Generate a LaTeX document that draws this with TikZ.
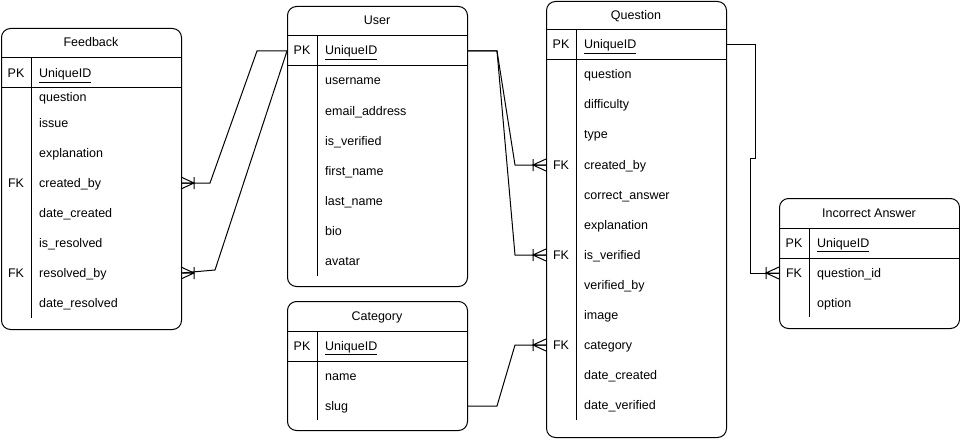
\documentclass[tikz,border=0pt]{standalone}
\usepackage{fontspec}
\setmainfont{Liberation Sans}
\begin{document}
\begin{tikzpicture}[x=1pt,y=-1pt,
  tbl/.style={draw=black,line width=1pt,rounded corners=9pt,fill=white,anchor=north west,inner sep=0pt},
  sep/.style={draw=black,line width=1pt},
  lbl/.style={font=\fontsize{12.5}{14}\selectfont,inner sep=0pt,text height=9pt,text depth=3pt,yshift=-1pt},
  fld/.style={lbl,anchor=west},
  keyl/.style={lbl,anchor=center},
  ttl/.style={lbl,anchor=center},
  rel/.style={draw=black,line width=1pt},
  crow/.pic={\draw[line width=1pt] (0,-6)--(13,0)--(0,6) (0,0)--(13,0) (13,-6)--(13,6);}
]
\useasboundingbox (0,0) rectangle (960,441);

% ---------- Feedback ----------
\node[tbl,minimum width=180pt,minimum height=301pt] (fb) at (1,28) {};
\draw[sep] (1,58) -- (181,58) (1,88) -- (181,88) (31,58) -- (31,318);
\node[ttl] (fbt) at (91,43) {Feedback};
\node[keyl] (fbpk) at (16,74) {PK};
\node[fld] (fbid) at (39,74) {\underline{UniqueID}};
\node[fld] (fb1) at (39,98) {question};
\node[fld] (fb2) at (39,124) {issue};
\node[fld] (fb3) at (39,153) {explanation};
\node[keyl] (fbfk1) at (16,183) {FK};
\node[fld] (fb4) at (39,183) {created\_by};
\node[fld] (fb5) at (39,213) {date\_created};
\node[fld] (fb6) at (39,243) {is\_resolved};
\node[keyl] (fbfk2) at (16,273) {FK};
\node[fld] (fb7) at (39,273) {resolved\_by};
\node[fld] (fb8) at (39,303) {date\_resolved};
\coordinate (fbcb) at (181,183);
\coordinate (fbrb) at (181,273);

% ---------- User ----------
\node[tbl,minimum width=180pt,minimum height=280pt] (us) at (287,6) {};
\draw[sep] (287,36) -- (467,36) (287,66) -- (467,66) (317,36) -- (317,276);
\node[ttl] (ust) at (377,21) {User};
\node[keyl] (uspk) at (302,51) {PK};
\node[fld] (usid) at (325,51) {\underline{UniqueID}};
\node[fld] (us1) at (325,81) {username};
\node[fld] (us2) at (325,111) {email\_address};
\node[fld] (us3) at (325,141) {is\_verified};
\node[fld] (us4) at (325,171) {first\_name};
\node[fld] (us5) at (325,201) {last\_name};
\node[fld] (us6) at (325,231) {bio};
\node[fld] (us7) at (325,261) {avatar};
\coordinate (uspkL) at (287,51);
\coordinate (uspkR) at (467,51);

% ---------- Category ----------
\node[tbl,minimum width=180pt,minimum height=129pt] (ca) at (287,301) {};
\draw[sep] (287,331) -- (467,331) (287,361) -- (467,361) (317,331) -- (317,420);
\node[ttl] (cat) at (377,316) {Category};
\node[keyl] (capk) at (302,346) {PK};
\node[fld] (caid) at (325,346) {\underline{UniqueID}};
\node[fld] (ca1) at (325,376) {name};
\node[fld] (ca2) at (325,406) {slug};
\coordinate (caslug) at (467,406);

% ---------- Question ----------
\node[tbl,minimum width=180pt,minimum height=436pt] (qu) at (546,1) {};
\draw[sep] (546,30) -- (726,30) (546,60) -- (726,60) (576,30) -- (576,420);
\node[ttl] (qut) at (636,16) {Question};
\node[keyl] (qupk) at (561,45) {PK};
\node[fld] (quid) at (584,45) {\underline{UniqueID}};
\node[fld] (qu1) at (584,75) {question};
\node[fld] (qu2) at (584,105) {difficulty};
\node[fld] (qu3) at (584,135) {type};
\node[keyl] (qufk1) at (561,165) {FK};
\node[fld] (qu4) at (584,165) {created\_by};
\node[fld] (qu5) at (584,195) {correct\_answer};
\node[fld] (qu6) at (584,225) {explanation};
\node[keyl] (qufk2) at (561,255) {FK};
\node[fld] (qu7) at (584,255) {is\_verified};
\node[fld] (qu8) at (584,285) {verified\_by};
\node[fld] (qu9) at (584,315) {image};
\node[keyl] (qufk3) at (561,345) {FK};
\node[fld] (qu10) at (584,345) {category};
\node[fld] (qu11) at (584,375) {date\_created};
\node[fld] (qu12) at (584,405) {date\_verified};
\coordinate (qucb) at (546,165);
\coordinate (quiv) at (546,255);
\coordinate (quca) at (546,345);
\coordinate (qupkR) at (726,45);

% ---------- Incorrect Answer ----------
\node[tbl,minimum width=180pt,minimum height=130pt] (ia) at (779,198) {};
\draw[sep] (779,228) -- (959,228) (779,258) -- (959,258) (809,228) -- (809,317);
\node[ttl] (iat) at (869,213) {Incorrect Answer};
\node[keyl] (iapk) at (794,243) {PK};
\node[fld] (iaid) at (817,243) {\underline{UniqueID}};
\node[keyl] (iafk) at (794,273) {FK};
\node[fld] (ia1) at (817,273) {question\_id};
\node[fld] (ia2) at (817,303) {option};
\coordinate (iaq) at (779,273);

% ---------- Connectors ----------
\draw[rel] (uspkL) -- (257,51) -- (210,183) -- (fbcb);
\pic at (fbcb) {crow};
\draw[rel] (uspkL) -- (215,270) -- (fbrb);
\pic at (fbrb) {crow};
\draw[rel] (uspkR) -- (497,51) -- (515,165) -- (qucb);
\pic[xscale=-1] at (qucb) {crow};
\draw[rel] (uspkR) -- (497,51) -- (515,255) -- (quiv);
\pic[xscale=-1] at (quiv) {crow};
\draw[rel] (caslug) -- (497,406) -- (515,345) -- (quca);
\pic[xscale=-1] at (quca) {crow};
\draw[rel] (qupkR) -- (755,45) -- (755,158) -- (750,158) -- (750,273) -- (iaq);
\pic[xscale=-1] at (iaq) {crow};
\end{tikzpicture}
\end{document}
